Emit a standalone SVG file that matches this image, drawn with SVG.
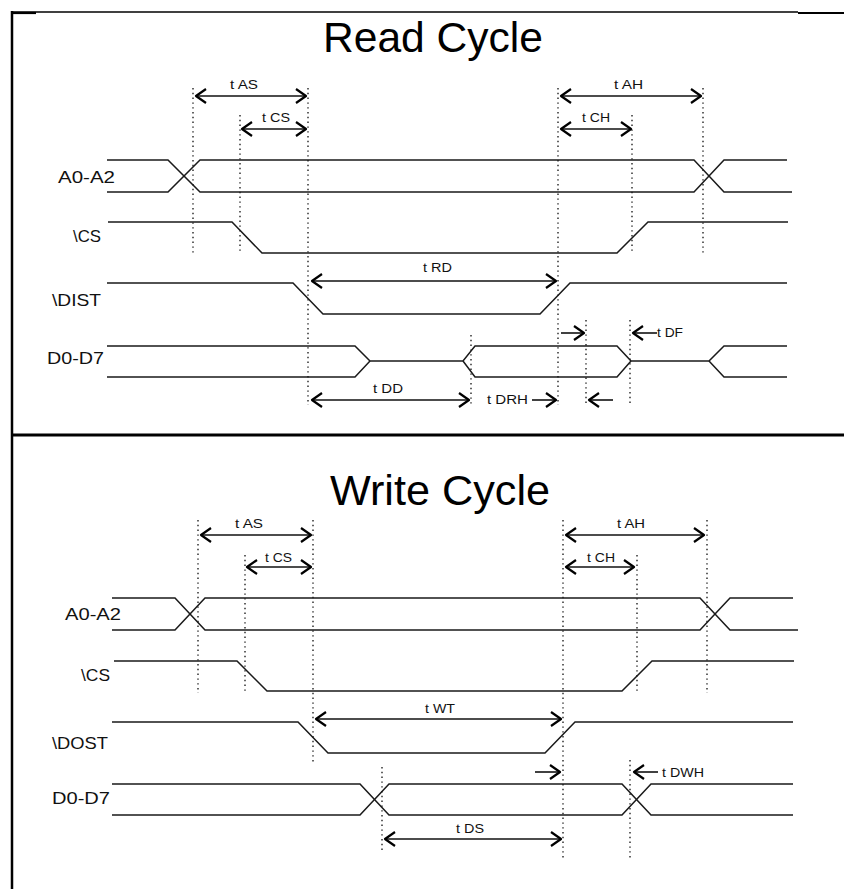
<svg xmlns="http://www.w3.org/2000/svg" width="844" height="889" viewBox="0 0 844 889">
<defs>
<style>
.sig{fill:none;stroke:#1a1a1a;stroke-width:1.5}
.dot{fill:none;stroke:#222;stroke-width:1.4;stroke-dasharray:1.4 3.4}
.arr{fill:none;stroke:#111;stroke-width:1.6}
.frame{fill:none;stroke:#000}
.title{font-family:"Liberation Sans",Arial,sans-serif;font-size:42px;fill:#000}
.name{font-family:"Liberation Sans",Arial,sans-serif;font-size:17px;fill:#111}
.lbl{font-family:"Liberation Sans",Arial,sans-serif;font-size:12.5px;fill:#111}
</style>
<marker id="ah" viewBox="-12 -9 14 18" markerWidth="14" markerHeight="18" refX="0" refY="0" markerUnits="userSpaceOnUse" orient="auto-start-reverse">
<path d="M-10,-7 L0,0 L-10,7" fill="none" stroke="#000" stroke-width="2.2" stroke-linejoin="round"/>
</marker>
</defs>
<rect width="844" height="889" fill="#fff"/>

<g id="frame">
<line class="frame" x1="12" y1="12" x2="798" y2="12" stroke-width="1.5"/>
<line class="frame" x1="12" y1="13" x2="36" y2="13" stroke-width="2.2"/>
<line class="frame" x1="798" y1="13" x2="844" y2="13" stroke-width="2.2"/>
<line class="frame" x1="12" y1="11" x2="12" y2="889" stroke-width="2.5"/>
<line class="frame" x1="11" y1="435" x2="844" y2="435" stroke-width="3"/>
</g>

<g id="read-cycle">
<text class="title" x="323" y="52" textLength="220" lengthAdjust="spacingAndGlyphs">Read Cycle</text>

<g id="read-guides">
<line class="dot" x1="193" y1="88" x2="193" y2="253"/>
<line class="dot" x1="240" y1="115" x2="240" y2="253"/>
<line class="dot" x1="308" y1="88" x2="308" y2="405"/>
<line class="dot" x1="558" y1="88" x2="558" y2="405"/>
<line class="dot" x1="632" y1="115" x2="632" y2="253"/>
<line class="dot" x1="703" y1="88" x2="703" y2="253"/>
<line class="dot" x1="471" y1="335" x2="471" y2="405"/>
<line class="dot" x1="586" y1="320" x2="586" y2="405"/>
<line class="dot" x1="630" y1="320" x2="630" y2="405"/>
</g>

<g id="read-a0a2">
<text class="name" x="58" y="183" textLength="57" lengthAdjust="spacingAndGlyphs">A0-A2</text>
<path class="sig" d="M107,160 H168 L200,192 H694 L724,160 H787"/>
<path class="sig" d="M107,192 H168 L200,160 H694 L724,192 H792"/>
</g>
<g id="read-cs">
<text class="name" x="73" y="242" textLength="28" lengthAdjust="spacingAndGlyphs">\CS</text>
<path class="sig" d="M108,222 H232 L262,253 H617 L648,222 H788"/>
</g>
<g id="read-dist">
<text class="name" x="52" y="306" textLength="49" lengthAdjust="spacingAndGlyphs">\DIST</text>
<path class="sig" d="M107,283 H293 L323,314 H540 L570,283 H787"/>
</g>
<g id="read-d0d7">
<text class="name" x="47" y="364" textLength="57" lengthAdjust="spacingAndGlyphs">D0-D7</text>
<path class="sig" d="M107,346 H355 L370,361 H463 L475,346 H617 L631,361 H709 L724,346 H787"/>
<path class="sig" d="M107,377 H355 L370,361 M463,361 L475,377 H617 L631,361 M709,361 L724,377 H787"/>
</g>

<g id="read-connectors">
<line class="arr" x1="196" y1="96" x2="306" y2="96" marker-start="url(#ah)" marker-end="url(#ah)"/>
<line class="arr" x1="242" y1="129" x2="306" y2="129" marker-start="url(#ah)" marker-end="url(#ah)"/>
<line class="arr" x1="561" y1="96" x2="701" y2="96" marker-start="url(#ah)" marker-end="url(#ah)"/>
<line class="arr" x1="561" y1="129" x2="631" y2="129" marker-start="url(#ah)" marker-end="url(#ah)"/>
<line class="arr" x1="312" y1="281" x2="556" y2="281" marker-start="url(#ah)" marker-end="url(#ah)"/>
<line class="arr" x1="312" y1="400" x2="469" y2="400" marker-start="url(#ah)" marker-end="url(#ah)"/>
<line class="arr" x1="532" y1="400" x2="556" y2="400" marker-end="url(#ah)"/>
<line class="arr" x1="589" y1="400" x2="613" y2="400" marker-start="url(#ah)"/>
<line class="arr" x1="561" y1="333" x2="584" y2="333" marker-end="url(#ah)"/>
<line class="arr" x1="633" y1="333" x2="657" y2="333" marker-start="url(#ah)"/>
</g>
<g id="read-labels">
<text class="lbl" x="230" y="89" textLength="28" lengthAdjust="spacingAndGlyphs">t AS</text>
<text class="lbl" x="262" y="122" textLength="28" lengthAdjust="spacingAndGlyphs">t CS</text>
<text class="lbl" x="614" y="89" textLength="29" lengthAdjust="spacingAndGlyphs">t AH</text>
<text class="lbl" x="582" y="122" textLength="28" lengthAdjust="spacingAndGlyphs">t CH</text>
<text class="lbl" x="423" y="272" textLength="29" lengthAdjust="spacingAndGlyphs">t RD</text>
<text class="lbl" x="373" y="393" textLength="30" lengthAdjust="spacingAndGlyphs">t DD</text>
<text class="lbl" x="487" y="404" textLength="41" lengthAdjust="spacingAndGlyphs">t DRH</text>
<text class="lbl" x="657" y="337" textLength="26" lengthAdjust="spacingAndGlyphs">t DF</text>
</g>
</g>

<g id="write-cycle">
<text class="title" x="330" y="505" textLength="220" lengthAdjust="spacingAndGlyphs">Write Cycle</text>

<g id="write-guides">
<line class="dot" x1="198" y1="520" x2="198" y2="693"/>
<line class="dot" x1="245" y1="555" x2="245" y2="693"/>
<line class="dot" x1="313" y1="520" x2="313" y2="762"/>
<line class="dot" x1="563" y1="520" x2="563" y2="858"/>
<line class="dot" x1="637" y1="555" x2="637" y2="693"/>
<line class="dot" x1="707" y1="520" x2="707" y2="693"/>
<line class="dot" x1="382" y1="767" x2="382" y2="852"/>
<line class="dot" x1="630" y1="760" x2="630" y2="858"/>
</g>

<g id="write-a0a2">
<text class="name" x="65" y="620" textLength="56" lengthAdjust="spacingAndGlyphs">A0-A2</text>
<path class="sig" d="M112,598 H175 L205,630 H700 L730,598 H793"/>
<path class="sig" d="M112,630 H175 L205,598 H700 L730,630 H798"/>
</g>
<g id="write-cs">
<text class="name" x="81" y="681" textLength="29" lengthAdjust="spacingAndGlyphs">\CS</text>
<path class="sig" d="M114,661 H237 L267,691 H622 L652,661 H794"/>
</g>
<g id="write-dost">
<text class="name" x="52" y="749" textLength="56" lengthAdjust="spacingAndGlyphs">\DOST</text>
<path class="sig" d="M112,722 H298 L328,753 H545 L575,722 H793"/>
</g>
<g id="write-d0d7">
<text class="name" x="52" y="804" textLength="58" lengthAdjust="spacingAndGlyphs">D0-D7</text>
<path class="sig" d="M112,784 H360 L389,815 H622 L651,784 H793"/>
<path class="sig" d="M112,815 H360 L389,784 H622 L651,815 H793"/>
</g>

<g id="write-connectors">
<line class="arr" x1="201" y1="535" x2="311" y2="535" marker-start="url(#ah)" marker-end="url(#ah)"/>
<line class="arr" x1="247" y1="567" x2="311" y2="567" marker-start="url(#ah)" marker-end="url(#ah)"/>
<line class="arr" x1="566" y1="535" x2="704" y2="535" marker-start="url(#ah)" marker-end="url(#ah)"/>
<line class="arr" x1="566" y1="567" x2="634" y2="567" marker-start="url(#ah)" marker-end="url(#ah)"/>
<line class="arr" x1="316" y1="719" x2="561" y2="719" marker-start="url(#ah)" marker-end="url(#ah)"/>
<line class="arr" x1="385" y1="839" x2="561" y2="839" marker-start="url(#ah)" marker-end="url(#ah)"/>
<line class="arr" x1="535" y1="772" x2="560" y2="772" marker-end="url(#ah)"/>
<line class="arr" x1="634" y1="772" x2="658" y2="772" marker-start="url(#ah)"/>
</g>
<g id="write-labels">
<text class="lbl" x="235" y="528" textLength="28" lengthAdjust="spacingAndGlyphs">t AS</text>
<text class="lbl" x="265" y="562" textLength="27" lengthAdjust="spacingAndGlyphs">t CS</text>
<text class="lbl" x="617" y="528" textLength="28" lengthAdjust="spacingAndGlyphs">t AH</text>
<text class="lbl" x="587" y="562" textLength="28" lengthAdjust="spacingAndGlyphs">t CH</text>
<text class="lbl" x="425" y="713" textLength="30" lengthAdjust="spacingAndGlyphs">t WT</text>
<text class="lbl" x="456" y="833" textLength="28" lengthAdjust="spacingAndGlyphs">t DS</text>
<text class="lbl" x="662" y="777" textLength="42" lengthAdjust="spacingAndGlyphs">t DWH</text>
</g>
</g>
</svg>
